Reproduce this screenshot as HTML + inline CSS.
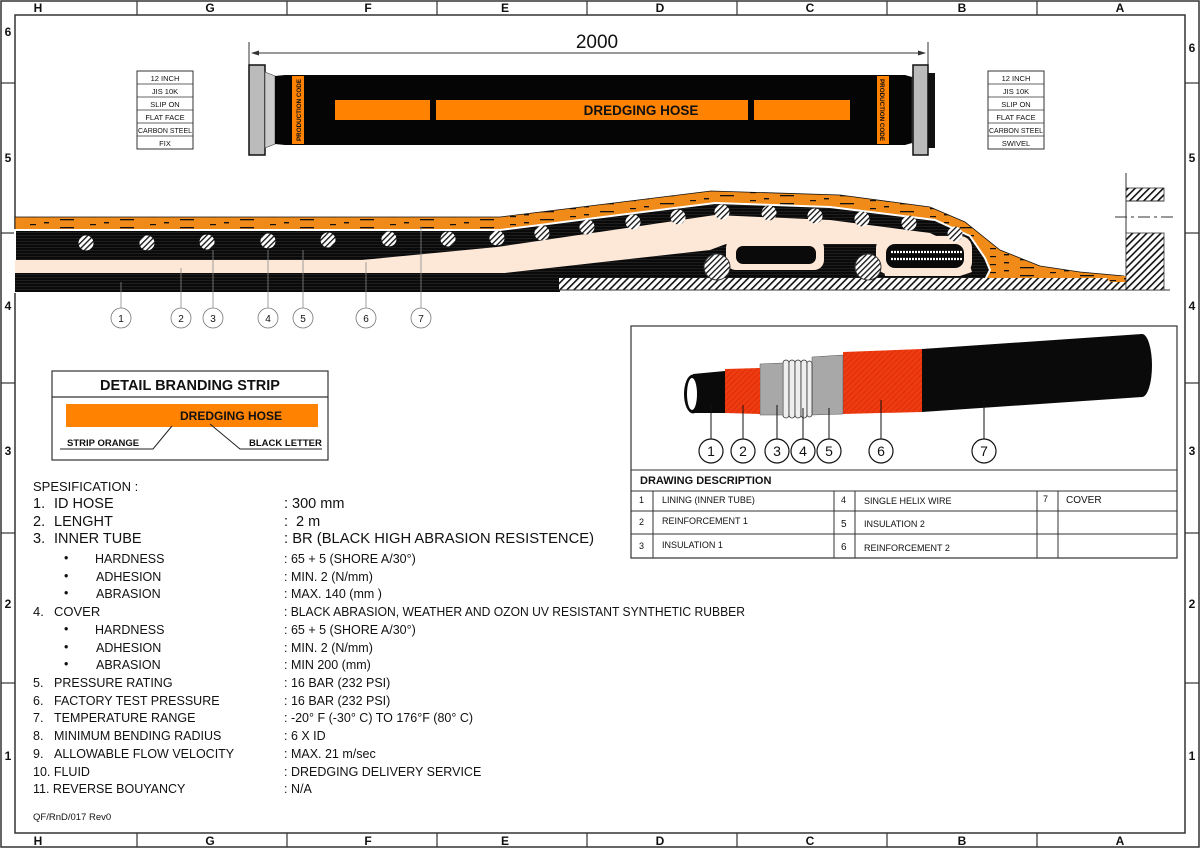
<!DOCTYPE html>
<html><head><meta charset="utf-8"><style>
html,body{margin:0;padding:0;background:#fff}
svg{display:block}
text{font-family:"Liberation Sans",Arial,sans-serif;fill:#111}
</style></head><body>
<svg width="1200" height="848" viewBox="0 0 1200 848" xmlns="http://www.w3.org/2000/svg">
<defs>
<pattern id="hat" width="5" height="5" patternUnits="userSpaceOnUse" patternTransform="rotate(45)">
<rect width="5" height="5" fill="#fff"/><rect width="1.6" height="5" fill="#111"/></pattern>
<pattern id="hatw" width="4" height="4" patternUnits="userSpaceOnUse" patternTransform="rotate(45)">
<rect width="4" height="4" fill="#fff"/><rect width="1.3" height="4" fill="#111"/></pattern>
<pattern id="org" width="60" height="8" patternUnits="userSpaceOnUse">
<rect width="60" height="8" fill="#f08a18"/><rect y="3" width="14" height="1.3" fill="#111"/><rect x="30" y="0" width="6" height="1.2" fill="#111"/><rect x="44" y="6" width="5" height="1.4" fill="#111"/></pattern>
<pattern id="blk" width="6" height="3" patternUnits="userSpaceOnUse">
<rect width="6" height="3" fill="#0a0a0a"/><rect y="1" width="6" height="0.6" fill="#2a2a2a"/></pattern>
<pattern id="red" width="4" height="4" patternUnits="userSpaceOnUse" patternTransform="rotate(45)">
<rect width="4" height="4" fill="#f03a10"/><rect width="1" height="4" fill="#d8300c"/></pattern>
</defs>

<!-- frame -->
<rect x="1" y="1" width="1198" height="846" fill="none" stroke="#333" stroke-width="1.5"/>
<rect x="15" y="15" width="1170" height="818" fill="none" stroke="#333" stroke-width="1.5"/>
<g stroke="#333" stroke-width="1.2">
<line x1="137" y1="1" x2="137" y2="15"/><line x1="287" y1="1" x2="287" y2="15"/><line x1="437" y1="1" x2="437" y2="15"/><line x1="587" y1="1" x2="587" y2="15"/><line x1="737" y1="1" x2="737" y2="15"/><line x1="887" y1="1" x2="887" y2="15"/><line x1="1037" y1="1" x2="1037" y2="15"/>
<line x1="137" y1="833" x2="137" y2="847"/><line x1="287" y1="833" x2="287" y2="847"/><line x1="437" y1="833" x2="437" y2="847"/><line x1="587" y1="833" x2="587" y2="847"/><line x1="737" y1="833" x2="737" y2="847"/><line x1="887" y1="833" x2="887" y2="847"/><line x1="1037" y1="833" x2="1037" y2="847"/>
<line x1="1" y1="83" x2="15" y2="83"/><line x1="1" y1="233" x2="15" y2="233"/><line x1="1" y1="383" x2="15" y2="383"/><line x1="1" y1="533" x2="15" y2="533"/><line x1="1" y1="683" x2="15" y2="683"/>
<line x1="1185" y1="83" x2="1199" y2="83"/><line x1="1185" y1="233" x2="1199" y2="233"/><line x1="1185" y1="383" x2="1199" y2="383"/><line x1="1185" y1="533" x2="1199" y2="533"/><line x1="1185" y1="683" x2="1199" y2="683"/>
</g>
<g font-size="12" font-weight="bold" text-anchor="middle">
<text x="38" y="12">H</text><text x="210" y="12">G</text><text x="368" y="12">F</text><text x="505" y="12">E</text><text x="660" y="12">D</text><text x="810" y="12">C</text><text x="962" y="12">B</text><text x="1120" y="12">A</text>
<text x="38" y="845">H</text><text x="210" y="845">G</text><text x="368" y="845">F</text><text x="505" y="845">E</text><text x="660" y="845">D</text><text x="810" y="845">C</text><text x="962" y="845">B</text><text x="1120" y="845">A</text>
<text x="8" y="36">6</text><text x="8" y="162">5</text><text x="8" y="310">4</text><text x="8" y="455">3</text><text x="8" y="608">2</text><text x="8" y="760">1</text>
<text x="1192" y="52">6</text><text x="1192" y="162">5</text><text x="1192" y="310">4</text><text x="1192" y="455">3</text><text x="1192" y="608">2</text><text x="1192" y="760">1</text>
</g>

<!-- top hose -->
<line x1="249" y1="42" x2="249" y2="68" stroke="#333"/><line x1="928" y1="42" x2="928" y2="68" stroke="#333"/>
<line x1="252" y1="53" x2="925" y2="53" stroke="#333"/>
<polygon points="251,53 259,50.5 259,55.5" fill="#333"/><polygon points="926,53 918,50.5 918,55.5" fill="#333"/>
<text x="597" y="48" font-size="19" text-anchor="middle">2000</text>
<rect x="249" y="65" width="16" height="90" fill="#bbb" stroke="#111" stroke-width="1.5"/>
<polygon points="265,72 275,76 275,144 265,148" fill="#ccc" stroke="#444" stroke-width="0.6"/>
<path d="M275,76 L285,75 L905,75 L912,77 L912,143 L905,145 L285,145 L275,144 Z" fill="#050505"/>
<polygon points="912,77 922,72 922,148 912,143" fill="#ccc" stroke="#444" stroke-width="0.6"/>
<rect x="913" y="65" width="15" height="90" fill="#bbb" stroke="#111" stroke-width="1.5"/>
<rect x="928" y="73" width="7" height="75" fill="#111"/>
<rect x="292" y="76" width="12" height="68" fill="#ff8200"/>
<rect x="877" y="76" width="12" height="68" fill="#ff8200"/>
<text transform="translate(301,110) rotate(-90)" font-size="6.5" font-weight="bold" text-anchor="middle" textLength="62" lengthAdjust="spacingAndGlyphs">PRODUCTION CODE</text>
<text transform="translate(880,110) rotate(90)" font-size="6.5" font-weight="bold" text-anchor="middle" textLength="62" lengthAdjust="spacingAndGlyphs">PRODUCTION CODE</text>
<rect x="335" y="100" width="95" height="20" fill="#ff8200"/>
<rect x="436" y="100" width="312" height="20" fill="#ff8200"/>
<rect x="754" y="100" width="96" height="20" fill="#ff8200"/>
<text x="641" y="115" font-size="13.5" font-weight="bold" text-anchor="middle" fill="#111">DREDGING HOSE</text>

<!-- side spec tables -->
<g font-size="7.5" text-anchor="middle">
<rect x="137" y="71" width="56" height="78" fill="#fff" stroke="#333" stroke-width="1"/>
<g stroke="#333" stroke-width="0.8"><line x1="137" y1="84" x2="193" y2="84"/><line x1="137" y1="97" x2="193" y2="97"/><line x1="137" y1="110" x2="193" y2="110"/><line x1="137" y1="123" x2="193" y2="123"/><line x1="137" y1="136" x2="193" y2="136"/></g>
<text x="165" y="81">12  INCH</text><text x="165" y="94">JIS 10K</text><text x="165" y="107">SLIP ON</text><text x="165" y="120">FLAT FACE</text><text x="165" y="133" textLength="54" lengthAdjust="spacingAndGlyphs">CARBON STEEL</text><text x="165" y="146">FIX</text>
<rect x="988" y="71" width="56" height="78" fill="#fff" stroke="#333" stroke-width="1"/>
<g stroke="#333" stroke-width="0.8"><line x1="988" y1="84" x2="1044" y2="84"/><line x1="988" y1="97" x2="1044" y2="97"/><line x1="988" y1="110" x2="1044" y2="110"/><line x1="988" y1="123" x2="1044" y2="123"/><line x1="988" y1="136" x2="1044" y2="136"/></g>
<text x="1016" y="81">12  INCH</text><text x="1016" y="94">JIS 10K</text><text x="1016" y="107">SLIP ON</text><text x="1016" y="120">FLAT FACE</text><text x="1016" y="133" textLength="54" lengthAdjust="spacingAndGlyphs">CARBON STEEL</text><text x="1016" y="146">SWIVEL</text>
</g>

<!-- section -->
<polygon points="15,217 500,217 711,191 840,195 930,207 965,222 1000,250 1040,266 1080,272 1124,276 1124,282 1040,282 1015,280 15,280" fill="url(#org)" stroke="#111" stroke-width="0.8"/>
<polygon points="15,230 500,230 715,203 830,207 935,220 970,236 985,258 990,270 985,280 15,292" fill="url(#blk)" stroke="#fff" stroke-width="2"/>
<polygon points="15,273 560,273 560,292 15,292" fill="url(#blk)"/>
<polygon points="15,260 362,260 497,247 715,215 830,220 930,233 965,250 972,272 960,276 885,276 880,244 726,244 710,250 505,273 15,273" fill="#fde8d8"/>
<rect x="726" y="238" width="98" height="32" rx="10" fill="#fde8d8"/>
<rect x="736" y="246" width="80" height="18" rx="7" fill="#0a0a0a"/>
<rect x="876" y="236" width="96" height="38" rx="12" fill="#fde8d8"/>
<rect x="886" y="244" width="78" height="24" rx="9" fill="#0a0a0a"/>
<path d="M891,252 H962 M891,259 H962" stroke="#fff" stroke-width="2.2" stroke-dasharray="2,1"/>
<rect x="559" y="278" width="567" height="12" fill="url(#hat)"/>
<polygon points="1105,276 1126,276 1126,282 1110,282" fill="url(#org)"/>
<line x1="559" y1="290" x2="1170" y2="290" stroke="#333"/>
<path d="M1126,173 V290" stroke="#333" fill="none"/>
<rect x="1126" y="188" width="38" height="13" fill="url(#hat)" stroke="#333" stroke-width="0.8"/>
<rect x="1126" y="233" width="38" height="57" fill="url(#hat)" stroke="#333" stroke-width="0.8"/>
<line x1="1126" y1="201" x2="1164" y2="201" stroke="#333"/>
<line x1="1115" y1="217" x2="1175" y2="217" stroke="#333" stroke-dasharray="12,4,3,4"/>
<circle cx="717" cy="267" r="13" fill="url(#hatw)" stroke="#333"/>
<circle cx="868" cy="267" r="13" fill="url(#hatw)" stroke="#333"/>
<g fill="url(#hatw)">
<circle cx="86" cy="243" r="7.5"/><circle cx="147" cy="243" r="7.5"/><circle cx="207" cy="242" r="7.5"/><circle cx="268" cy="241" r="7.5"/><circle cx="328" cy="240" r="7.5"/><circle cx="389" cy="239" r="7.5"/><circle cx="448" cy="239" r="7.5"/><circle cx="497" cy="238" r="7.5"/><circle cx="542" cy="233" r="7.5"/><circle cx="587" cy="227" r="7.5"/><circle cx="633" cy="222" r="7.5"/><circle cx="678" cy="217" r="7.5"/><circle cx="722" cy="212" r="7.5"/><circle cx="769" cy="213" r="7.5"/><circle cx="815" cy="216" r="7.5"/><circle cx="862" cy="219" r="7.5"/><circle cx="909" cy="223" r="7.5"/><circle cx="955" cy="234" r="7.5"/>
</g>
<g stroke="#888" stroke-width="0.8">
<line x1="121" y1="282" x2="121" y2="308"/><line x1="181" y1="268" x2="181" y2="308"/><line x1="213" y1="250" x2="213" y2="308"/><line x1="268" y1="250" x2="268" y2="308"/><line x1="303" y1="250" x2="303" y2="308"/><line x1="366" y1="262" x2="366" y2="308"/><line x1="421" y1="226" x2="421" y2="308"/>
</g>
<g fill="#fff" stroke="#777" stroke-width="0.8"><circle cx="121" cy="318" r="10"/><circle cx="181" cy="318" r="10"/><circle cx="213" cy="318" r="10"/><circle cx="268" cy="318" r="10"/><circle cx="303" cy="318" r="10"/><circle cx="366" cy="318" r="10"/><circle cx="421" cy="318" r="10"/></g>
<g font-size="10" text-anchor="middle"><text x="121" y="322">1</text><text x="181" y="322">2</text><text x="213" y="322">3</text><text x="268" y="322">4</text><text x="303" y="322">5</text><text x="366" y="322">6</text><text x="421" y="322">7</text></g>

<!-- branding strip -->
<rect x="52" y="371" width="276" height="89" fill="#fff" stroke="#333" stroke-width="1.2"/>
<line x1="52" y1="397" x2="328" y2="397" stroke="#333" stroke-width="1.2"/>
<text x="190" y="390" font-size="14.5" font-weight="bold" text-anchor="middle">DETAIL BRANDING STRIP</text>
<rect x="66" y="404" width="252" height="23" fill="#ff8200"/>
<text x="231" y="420" font-size="12" font-weight="bold" text-anchor="middle" fill="#3a1a00">DREDGING HOSE</text>
<polyline points="60,449 153,449 172,426" fill="none" stroke="#222" stroke-width="1"/>
<polyline points="210,424 240,449 322,449" fill="none" stroke="#222" stroke-width="1"/>
<text x="67" y="446" font-size="9.5" font-weight="bold">STRIP ORANGE</text>
<text x="249" y="446" font-size="9.5" font-weight="bold">BLACK LETTER</text>

<!-- right box -->
<rect x="631" y="326" width="546" height="232" fill="#fff" stroke="#333" stroke-width="1.2"/>
<path d="M922,349 L1142,334 L1142,397 L922,412 Z" fill="#0a0a0a"/>
<ellipse cx="1142" cy="365.5" rx="10" ry="31.5" fill="#0a0a0a"/>
<path d="M843,352 L922,349 L922,412 L843,414 Z" fill="url(#red)"/>
<path d="M812,357 L843,355 L843,414 L812,415 Z" fill="#a8a8a8" stroke="#555" stroke-width="0.5"/>
<g fill="#eee" stroke="#333" stroke-width="0.8"><rect x="783" y="360" width="6" height="58" rx="3"/><rect x="789" y="360" width="6" height="58" rx="3"/><rect x="795" y="360" width="6" height="58" rx="3"/><rect x="801" y="360" width="6" height="58" rx="3"/><rect x="807" y="361" width="5" height="56" rx="2.5"/></g>
<path d="M760,364 L783,363 L783,415 L760,415 Z" fill="#a8a8a8" stroke="#555" stroke-width="0.5"/>
<path d="M725,369 L760,368 L760,414 L725,413 Z" fill="url(#red)"/>
<path d="M693,374 L725,371 L725,413 L693,413 Z" fill="#0a0a0a"/>
<ellipse cx="693" cy="394" rx="9" ry="19.5" fill="#0a0a0a"/>
<ellipse cx="692" cy="394" rx="5" ry="16" fill="#fff"/>
<g stroke="#111" stroke-width="1"><line x1="711" y1="405" x2="711" y2="439"/><line x1="743" y1="405" x2="743" y2="439"/><line x1="777" y1="405" x2="777" y2="439"/><line x1="803" y1="408" x2="803" y2="439"/><line x1="829" y1="408" x2="829" y2="439"/><line x1="881" y1="400" x2="881" y2="439"/><line x1="984" y1="400" x2="984" y2="439"/></g>
<g fill="#fff" stroke="#111" stroke-width="1.2"><circle cx="711" cy="451" r="12"/><circle cx="743" cy="451" r="12"/><circle cx="777" cy="451" r="12"/><circle cx="803" cy="451" r="12"/><circle cx="829" cy="451" r="12"/><circle cx="881" cy="451" r="12"/><circle cx="984" cy="451" r="12"/></g>
<g font-size="14" text-anchor="middle"><text x="711" y="456">1</text><text x="743" y="456">2</text><text x="777" y="456">3</text><text x="803" y="456">4</text><text x="829" y="456">5</text><text x="881" y="456">6</text><text x="984" y="456">7</text></g>
<g stroke="#333" stroke-width="1">
<line x1="631" y1="470" x2="1177" y2="470"/><line x1="631" y1="491" x2="1177" y2="491"/><line x1="631" y1="511" x2="1177" y2="511"/><line x1="631" y1="534" x2="1177" y2="534"/>
<line x1="653" y1="491" x2="653" y2="558"/><line x1="834" y1="491" x2="834" y2="558"/><line x1="855" y1="491" x2="855" y2="558"/><line x1="1037" y1="491" x2="1037" y2="558"/><line x1="1058" y1="491" x2="1058" y2="558"/>
</g>
<text x="640" y="484" font-size="11" font-weight="bold">DRAWING DESCRIPTION</text>
<g font-size="9">
<text x="639" y="503">1</text><text x="662" y="503">LINING (INNER TUBE)</text><text x="841" y="503">4</text><text x="864" y="504">SINGLE HELIX WIRE</text><text x="1043" y="502">7</text><text x="1066" y="503" font-size="10">COVER</text>
<text x="639" y="525">2</text><text x="662" y="524">REINFORCEMENT 1</text><text x="841" y="527" font-size="10">5</text><text x="864" y="527">INSULATION 2</text>
<text x="639" y="549">3</text><text x="662" y="548">INSULATION 1</text><text x="841" y="550" font-size="10">6</text><text x="864" y="551">REINFORCEMENT 2</text>
</g>

<!-- specification -->
<g font-size="13">
<text x="33" y="491">SPESIFICATION  :</text>
<g font-size="14.5">
<text x="33" y="508">1.</text><text x="54" y="508">ID HOSE</text><text x="284" y="508">: 300 mm</text>
<text x="33" y="526">2.</text><text x="54" y="526">LENGHT</text><text x="284" y="526">:</text><text x="296" y="526">2 m</text>
<text x="33" y="543">3.</text><text x="54" y="543">INNER TUBE</text><text x="284" y="543" textLength="310" lengthAdjust="spacingAndGlyphs">: BR (BLACK HIGH ABRASION RESISTENCE)</text>
</g>
<g font-size="12.5">
<text x="64" y="562">•</text><text x="95" y="563">HARDNESS</text><text x="284" y="563">: 65 + 5 (SHORE A/30°)</text>
<text x="64" y="580">•</text><text x="96" y="581">ADHESION</text><text x="284" y="581">: MIN. 2 (N/mm)</text>
<text x="64" y="597">•</text><text x="96" y="598">ABRASION</text><text x="284" y="598">: MAX. 140 (mm )</text>
</g>
<text x="33" y="616">4.</text><text x="54" y="616">COVER</text><text x="284" y="616" textLength="461" lengthAdjust="spacingAndGlyphs">: BLACK ABRASION, WEATHER AND OZON UV RESISTANT SYNTHETIC RUBBER</text>
<g font-size="12.5">
<text x="64" y="633">•</text><text x="95" y="634">HARDNESS</text><text x="284" y="634">: 65 + 5 (SHORE A/30°)</text>
<text x="64" y="651">•</text><text x="96" y="652">ADHESION</text><text x="284" y="652">: MIN. 2 (N/mm)</text>
<text x="64" y="668">•</text><text x="96" y="669">ABRASION</text><text x="284" y="669">: MIN 200 (mm)</text>
</g>
<g font-size="12.5">
<text x="33" y="687">5.</text><text x="54" y="687">PRESSURE RATING</text><text x="284" y="687">: 16 BAR (232 PSI)</text>
<text x="33" y="705">6.</text><text x="54" y="705">FACTORY TEST PRESSURE</text><text x="284" y="705">: 16 BAR (232 PSI)</text>
<text x="33" y="722">7.</text><text x="54" y="722">TEMPERATURE RANGE</text><text x="284" y="722">: -20° F (-30° C) TO 176°F (80° C)</text>
<text x="33" y="740">8.</text><text x="54" y="740">MINIMUM BENDING RADIUS</text><text x="284" y="740">: 6 X ID</text>
<text x="33" y="758">9.</text><text x="54" y="758">ALLOWABLE FLOW VELOCITY</text><text x="284" y="758">: MAX. 21 m/sec</text>
<text x="33" y="776">10. FLUID</text><text x="284" y="776">: DREDGING DELIVERY SERVICE</text>
<text x="33" y="793">11. REVERSE BOUYANCY</text><text x="284" y="793">: N/A</text>
</g>
<text x="33" y="820" font-size="9.5">QF/RnD/017 Rev0</text>
</g>
</svg>
</body></html>
